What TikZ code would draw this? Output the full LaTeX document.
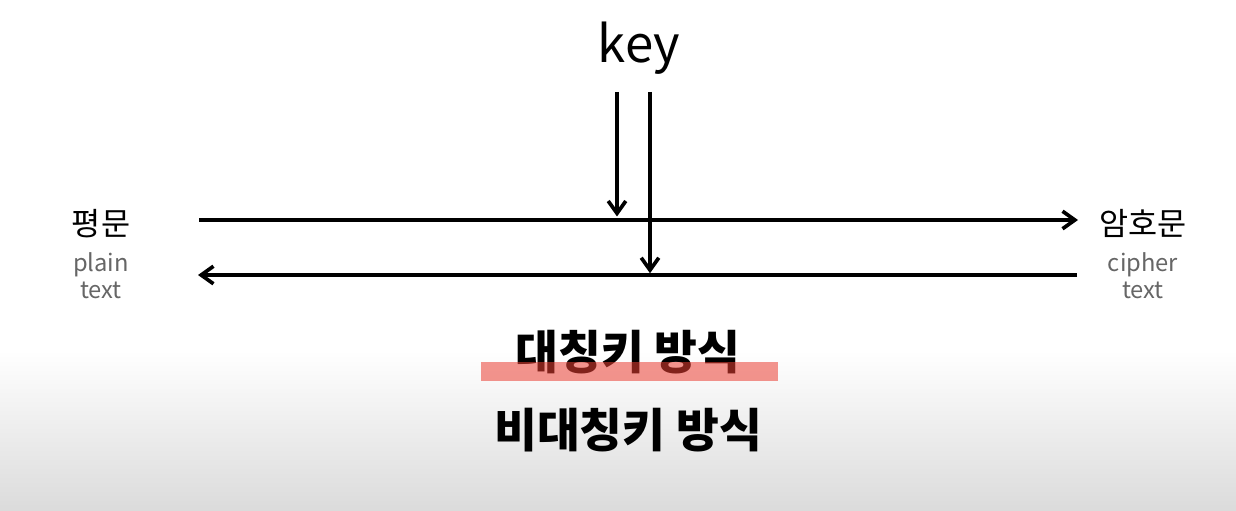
\documentclass[tikz,border=0pt]{standalone}
\usepackage{fontspec}
\setmainfont{Noto Sans CJK KR}
\usetikzlibrary{arrows.meta,positioning}
\definecolor{markred}{RGB}{235,62,50}

\begin{document}
\begin{tikzpicture}[
    x=0.02cm, y=-0.02cm,
    word/.style={anchor=base, inner sep=0pt, font=\fontsize{18}{20}\selectfont},
    sub/.style={anchor=base, inner sep=0pt, align=center, text=black!60, font=\fontsize{13.5}{15.3}\selectfont},
    title/.style={anchor=base, inner sep=0pt, font=\fontsize{26.5}{29}\selectfont\bfseries},
    arrow/.style={-{Straight Barb[length=7pt,width=10pt]}, line width=2.1pt}
]
\useasboundingbox (0,0) rectangle (1236,510);
\fill[white] (0,0) rectangle (1236,350);
\shade[top color=white, bottom color=black!14] (0,350) rectangle (1236,510);

\node[anchor=base, inner sep=0pt, font=\fontsize{29}{32}\selectfont] (key) at (639,63) {key};
\node[word] (plain) at (101,235) {평문};
\node[sub] (plainsub) at (101,298) {plain\\text};
\node[word] (cipher) at (1143,235) {암호문};
\node[sub] (ciphersub) at (1143,298) {cipher\\text};
\node[title] (sym) at (628,369) {대칭키 방식};
\node[title] (asym) at (628,447) {비대칭키 방식};

\coordinate (encL) at (199,220);
\coordinate (encR) at (1078,220);
\coordinate (decR) at (1077,275);
\coordinate (decL) at (198,275);
\coordinate (k1) at (617,92);
\coordinate (k2) at (650,92);

\draw[arrow] (encL) -- (encR);
\draw[arrow] (decR) -- (decL);
\draw[arrow] (k1) -- ([yshift=2pt]k1 |- encL);
\draw[arrow] (k2) -- ([yshift=1pt]k2 |- decR);

\fill[markred, opacity=0.55] (481,362) rectangle (778,381);
\end{tikzpicture}
\end{document}
